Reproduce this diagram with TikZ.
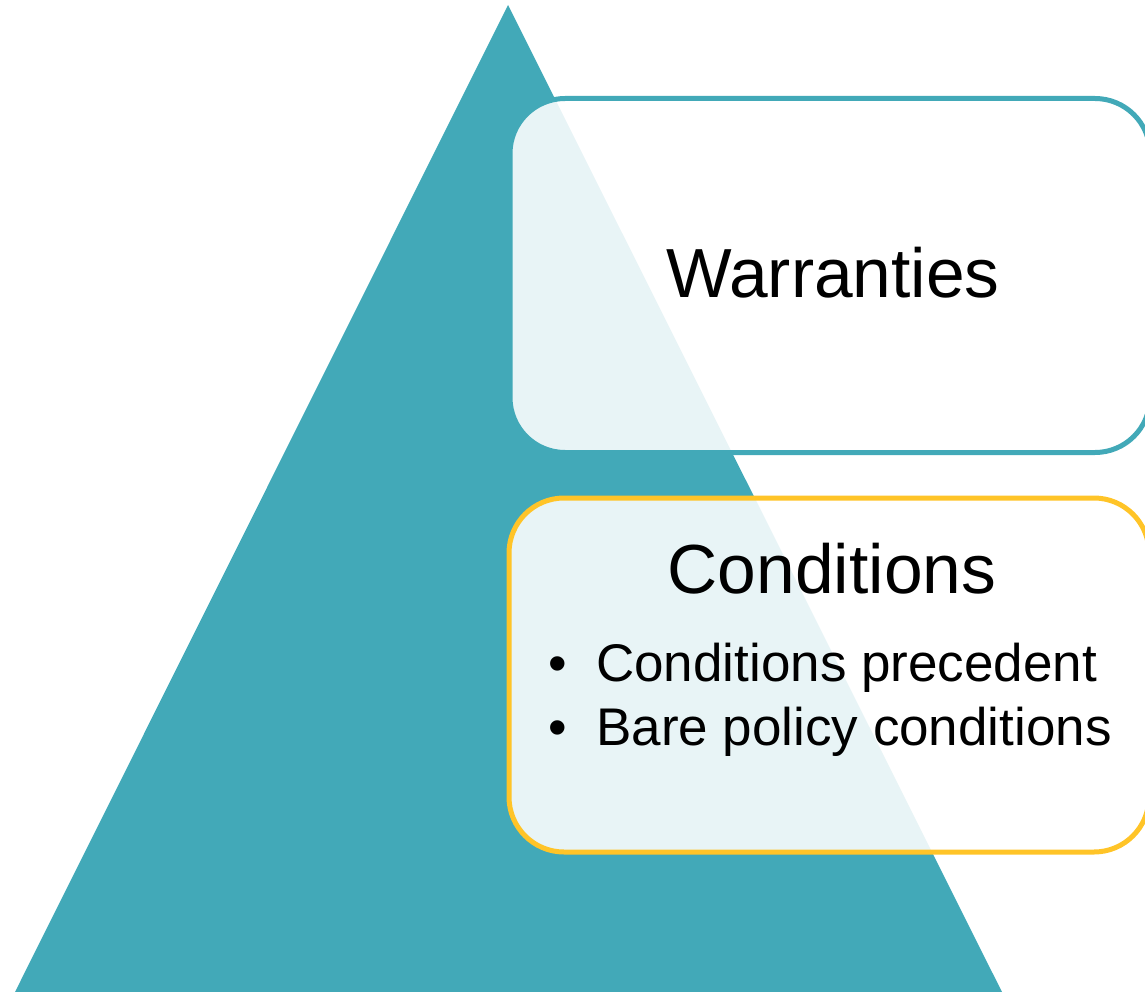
\documentclass[tikz,border=0pt]{standalone}
\usepackage{fontspec}
\setmainfont{Liberation Sans}
\definecolor{teal}{RGB}{66,169,184}
\definecolor{gold}{RGB}{255,196,40}
\begin{document}
\begin{tikzpicture}[x=1pt,y=-1pt,
  panel/.style={rounded corners=55pt, line width=5pt, fill=white, fill opacity=0.88,
    minimum width=640pt, minimum height=354pt, inner sep=0pt},
  title/.style={font=\fontsize{69.5}{80}\selectfont, inner sep=0pt},
  item/.style={font=\fontsize{53}{64}\selectfont, inner sep=0pt, anchor=base west}]
\useasboundingbox (0,0) rectangle (1145,992);
\clip (0,0) rectangle (1145,992);
% pyramid
\fill[teal] (508,5) -- (15,992) -- (1002,992) -- cycle;
% panels
\node[panel, draw=teal] (warr) at (830,275.5) {};
\node[panel, draw=gold] (cond) at (829,675) {};
% texts
\node[title, anchor=base] (wt) at (833,298) {Warranties};
\node[title, anchor=base] (ct) at (832,593) {Conditions};
\node[item] (b1) at (548,681) {\textbullet};
\node[item] (i1) at (596,681) {Conditions precedent};
\node[item] (b2) at (548,745) {\textbullet};
\node[item] (i2) at (596,745) {Bare policy conditions};
\end{tikzpicture}
\end{document}
